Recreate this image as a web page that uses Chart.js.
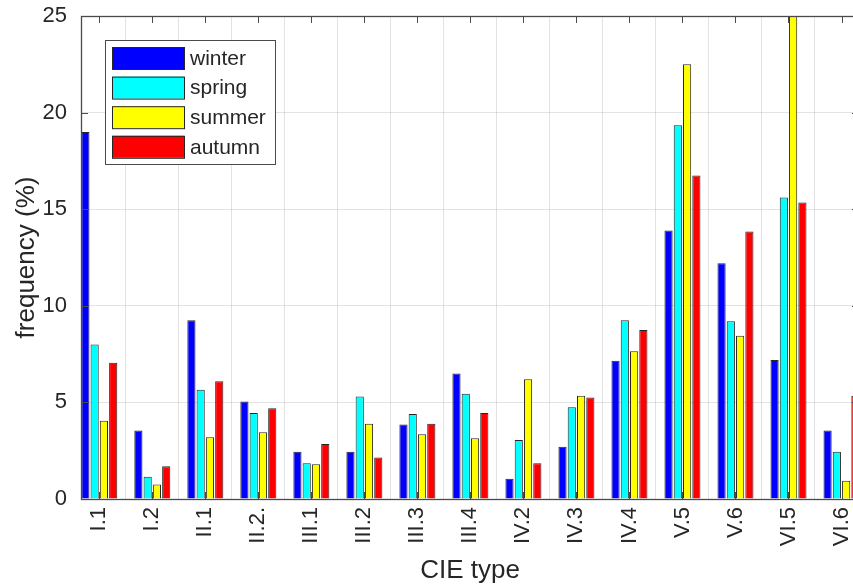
<!DOCTYPE html>
<html>
<head>
<meta charset="utf-8">
<title>CIE type frequency</title>
<script src="https://cdn.jsdelivr.net/npm/chart.js@4/dist/chart.umd.min.js"></script>
<style>
    html, body { margin: 0; padding: 0; background: #fff; overflow: hidden; }
    /* the original figure is cut off at the right edge, so the canvas runs past the window */
    #wrap { width: 853px; height: 588px; overflow: hidden; }
</style>
</head>
<body>
<div id="wrap"><canvas id="ChartData" width="866" height="588"></canvas></div>
<script>

var categories = ['I.1', 'I.2', 'II.1', 'II.2.', 'III.1', 'III.2', 'III.3', 'III.4', 'IV.2', 'IV.3', 'IV.4', 'V.5', 'V.6', 'VI.5', 'VI.6'];
var winter = [19.0, 3.55, 9.25, 5.05, 2.45, 2.45, 3.85, 6.5, 1.05, 2.7, 7.15, 13.9, 12.2, 7.2, 3.55];
var spring = [8.0, 1.15, 5.65, 4.45, 1.85, 5.3, 4.4, 5.45, 3.05, 4.75, 9.25, 19.35, 9.2, 15.6, 2.45];
var summer = [4.05, 0.75, 3.2, 3.45, 1.8, 3.9, 3.35, 3.15, 6.2, 5.35, 7.65, 22.5, 8.45, 27.0, 0.95];
var autumn = [7.05, 1.7, 6.1, 4.7, 2.85, 2.15, 3.9, 4.45, 1.85, 5.25, 8.75, 16.75, 13.85, 15.35, 5.35];
var yTicks = [0, 5, 10, 15, 20, 25];

var FONT = "'Liberation Sans', Arial, Helvetica, sans-serif";
var TEXT = '#262626';
var AXIS = '#4a4a4a';

function toPoints(values) {
    var pts = [];
    for (var i = 0; i < values.length; i++) {
        pts.push({ x: i + 1, y: values[i] });
    }
    return pts;
}

function makeSet(label, values, color) {
    return {
        label: label,
        data: toPoints(values),
        backgroundColor: color,
        borderColor: '#262626',
        borderWidth: 1,
        categoryPercentage: 0.7,
        barPercentage: 0.88
    };
}

// no extra room for labels sticking out past the axes
function noPadding(scale) {
    scale.paddingLeft = 0;
    scale.paddingRight = 0;
    scale.paddingTop = 0;
    scale.paddingBottom = 0;
}

// matlab style box with ticks pointing inward
var boxPlugin = {
    id: 'box',
    afterDatasetsDraw: function (chart) {
        var ctx = chart.ctx;
        var a = chart.chartArea;
        var xs = chart.scales.x;
        var ys = chart.scales.y;
        var len = 7;
        ctx.save();
        ctx.strokeStyle = AXIS;
        ctx.lineWidth = 1;
        ctx.beginPath();
        for (var i = 0; i < categories.length; i++) {
            var px = Math.round(xs.getPixelForValue(i + 1)) + 0.5;
            ctx.moveTo(px, a.top);
            ctx.lineTo(px, a.top + len);
            ctx.moveTo(px, a.bottom);
            ctx.lineTo(px, a.bottom - len);
        }
        for (var j = 0; j < yTicks.length; j++) {
            var py = Math.round(ys.getPixelForValue(yTicks[j])) + 0.5;
            ctx.moveTo(a.left, py);
            ctx.lineTo(a.left + len, py);
            ctx.moveTo(a.right, py);
            ctx.lineTo(a.right - len, py);
        }
        ctx.stroke();
        ctx.lineWidth = 1.3;
        ctx.strokeRect(a.left + 0.5, a.top + 0.5, a.right - a.left - 1, a.bottom - a.top);
        ctx.restore();
    },
    afterDraw: function (chart) {
        // legend box in upper left of the axes
        var ctx = chart.ctx;
        var sets = chart.data.datasets;
        var bx = 105, by = 40, bw = 170, bh = 124;
        ctx.save();
        ctx.fillStyle = '#fff';
        ctx.fillRect(bx, by, bw, bh);
        ctx.strokeStyle = AXIS;
        ctx.lineWidth = 1;
        ctx.strokeRect(bx + 0.5, by + 0.5, bw, bh);
        ctx.font = '21px ' + FONT;
        ctx.textBaseline = 'middle';
        for (var i = 0; i < sets.length; i++) {
            var cy = 58 + i * 29.6;
            ctx.fillStyle = sets[i].backgroundColor;
            ctx.fillRect(112, cy - 11, 72, 22);
            ctx.strokeStyle = '#262626';
            ctx.strokeRect(112.5, cy - 10.5, 72, 22);
            ctx.fillStyle = TEXT;
            ctx.fillText(sets[i].label, 190, cy + 1);
        }
        ctx.restore();
    }
};

function CreateChart() {
    var ctx = document.getElementById('ChartData').getContext('2d');
    var chart = new Chart(ctx, {
        type: 'bar',
        data: {
            datasets: [
                makeSet('winter', winter, '#0000ff'),
                makeSet('spring', spring, '#00ffff'),
                makeSet('summer', summer, '#ffff00'),
                makeSet('autumn', autumn, '#ff0000')
            ]
        },
        options: {
            responsive: false,
            animation: false,
            devicePixelRatio: 1,
            layout: { padding: { left: 0, right: 7, top: 16, bottom: 0 } },
            plugins: {
                legend: { display: false },
                tooltip: { enabled: false }
            },
            scales: {
                x: {
                    type: 'linear',
                    min: 0.655,
                    max: 15.33,
                    offset: false,
                    afterBuildTicks: function (scale) {
                        scale.ticks = categories.map(function (c, i) { return { value: i + 1 }; });
                    },
                    afterFit: function (scale) {
                        scale.height = 89;
                        noPadding(scale);
                    },
                    grid: { color: 'rgba(38,38,38,0.13)', drawTicks: false },
                    border: { display: false },
                    ticks: {
                        minRotation: 90,
                        maxRotation: 90,
                        padding: 8,
                        color: TEXT,
                        font: { family: FONT, size: 22 },
                        callback: function (value) { return categories[value - 1]; }
                    },
                    title: {
                        display: true,
                        text: 'CIE type',
                        color: TEXT,
                        font: { family: FONT, size: 26 },
                        padding: { top: 0, bottom: 2 }
                    }
                },
                y: {
                    min: 0,
                    max: 25,
                    afterFit: function (scale) {
                        scale.width = 81;
                        noPadding(scale);
                    },
                    grid: { color: 'rgba(38,38,38,0.13)', drawTicks: false },
                    border: { display: false },
                    ticks: {
                        stepSize: 5,
                        padding: 14,
                        color: TEXT,
                        font: { family: FONT, size: 22 }
                    },
                    title: {
                        display: true,
                        text: 'frequency (%)',
                        color: TEXT,
                        font: { family: FONT, size: 26 },
                        padding: { top: 11, bottom: 0 }
                    }
                }
            }
        },
        plugins: [boxPlugin]
    });
}

CreateChart();
</script>
</body>
</html>
